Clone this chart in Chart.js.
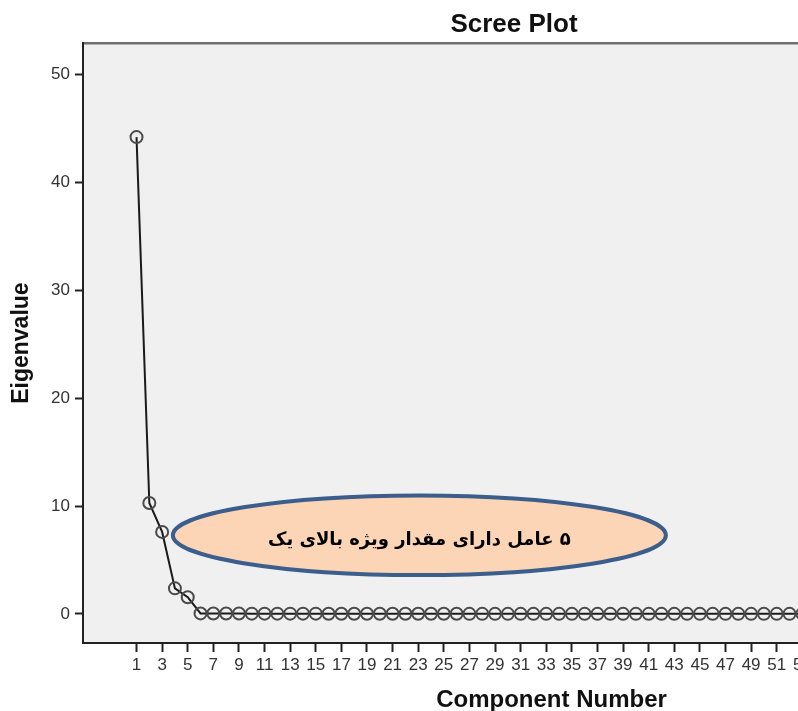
<!DOCTYPE html>
<html>
<head>
<meta charset="utf-8">
<script src="https://cdn.jsdelivr.net/npm/chart.js@4.4.1/dist/chart.umd.min.js"></script>
<style>
  html, body { margin: 0; padding: 0; background: #ffffff; overflow: hidden; }
  #wrap { position: relative; width: 1028px; height: 711px; }
</style>
</head>
<body>
<div id="wrap"><canvas id="c"></canvas></div>
<script>
// ---- data ----
const components = [];
for (let i = 1; i <= 54; i++) components.push(i);
const eigenvalues = [
  44.17, 10.28, 7.60, 2.37, 1.55, 0.05, 0.04, 0.04, 0.04, 0.03,
  0.03, 0.03, 0.03, 0.03, 0.03, 0.02, 0.02, 0.02, 0.02, 0.02,
  0.02, 0.02, 0.02, 0.02, 0.02, 0.02, 0.01, 0.01, 0.01, 0.01,
  0.01, 0.01, 0.01, 0.01, 0.01, 0.01, 0.01, 0.01, 0.01, 0.01,
  0.01, 0.01, 0.01, 0.01, 0.01, 0.01, 0.01, 0.01, 0.01, 0.01,
  0.01, 0.01, 0.01, 0.01
];
const xTickValues = [];
for (let i = 1; i <= 53; i += 2) xTickValues.push(i);
const yTickValues = [0, 10, 20, 30, 40, 50];
const titleText = 'Scree Plot';
const xTitle = 'Component Number';
const yTitle = 'Eigenvalue';
const noteText = '۵ عامل دارای مقدار ویژه بالای یک';

const points = components.map((c, i) => ({ x: c, y: eigenvalues[i] }));

const areaPlugin = {
  id: 'areaBg',
  beforeDraw(chart) {
    const { ctx, chartArea: a } = chart;
    ctx.save();
    ctx.fillStyle = '#f0f0f0';
    ctx.fillRect(a.left, a.top, a.right - a.left, a.bottom - a.top);
    ctx.strokeStyle = '#6e6e6e';
    ctx.lineWidth = 2.5;
    ctx.beginPath();
    ctx.moveTo(a.left, a.top);
    ctx.lineTo(a.right, a.top);
    ctx.stroke();
    ctx.restore();
  }
};

const ellipsePlugin = {
  id: 'noteEllipse',
  afterDatasetsDraw(chart, args, opts) {
    const { ctx, scales: { x, y } } = chart;
    const cx = x.getPixelForValue(opts.cx);
    const cy = y.getPixelForValue(opts.cy);
    const rx = Math.abs(x.getPixelForValue(opts.cx + opts.rx) - cx);
    const ry = Math.abs(y.getPixelForValue(opts.cy + opts.ry) - cy);
    ctx.save();
    ctx.beginPath();
    ctx.ellipse(cx, cy, rx, ry, 0, 0, Math.PI * 2);
    ctx.fillStyle = opts.fill;
    ctx.fill();
    ctx.lineWidth = opts.lineWidth;
    ctx.strokeStyle = opts.stroke;
    ctx.stroke();
    ctx.fillStyle = '#000';
    ctx.font = opts.font;
    ctx.textAlign = 'center';
    ctx.textBaseline = 'middle';
    ctx.direction = 'rtl';
    ctx.fillText(opts.text, cx + opts.textDx, cy + opts.textDy);
    ctx.restore();
  }
};

new Chart(document.getElementById('c'), {
  type: 'line',
  data: {
    datasets: [{
      data: points,
      borderColor: '#1a1a1a',
      borderWidth: 2,
      pointRadius: 6,
      pointBorderWidth: 2,
      pointBorderColor: '#4a4a4a',
      pointBackgroundColor: 'rgba(0,0,0,0)',
      tension: 0,
      clip: false
    }]
  },
  options: {
    responsive: true,
    maintainAspectRatio: false,
    animation: false,
    devicePixelRatio: 1,
    layout: { padding: { left: 0, right: 0, top: 0, bottom: 0 } },
    plugins: {
      legend: { display: false },
      tooltip: { enabled: false },
      title: {
        display: true,
        text: titleText,
        color: '#111',
        font: { family: 'Liberation Sans, Arial, sans-serif', size: 26, weight: 'bold', lineHeight: 1.2 },
        padding: { top: 9, bottom: 3 }
      },
      noteEllipse: {
        cx: 23.09, cy: 7.29, rx: 19.25, ry: 3.69,
        fill: '#fbd5b5', stroke: '#3b5e8c', lineWidth: 4,
        text: noteText,
        font: 'bold 18px "DejaVu Sans", sans-serif',
        textDx: 0, textDy: 5
      }
    },
    scales: {
      x: {
        type: 'linear',
        min: -3.18,
        max: 70,
        afterBuildTicks(scale) { scale.ticks = xTickValues.map(v => ({ value: v })); },
        afterFit(scale) { scale.height = 68; },
        grid: { display: true, drawOnChartArea: false, drawTicks: true, tickLength: 9, tickColor: '#222', tickWidth: 2 },
        border: { display: true, color: '#222', width: 2 },
        ticks: {
          autoSkip: false, maxRotation: 0, padding: 3,
          color: '#333',
          font: { family: 'Liberation Sans, Arial, sans-serif', size: 17 },
          callback: v => String(v)
        },
        title: {
          display: true, text: xTitle, color: '#111',
          font: { family: 'Liberation Sans, Arial, sans-serif', size: 24, weight: 'bold' },
          padding: { top: 4, bottom: -4 }
        }
      },
      y: {
        type: 'linear',
        min: -2.69,
        max: 52.87,
        afterBuildTicks(scale) { scale.ticks = yTickValues.map(v => ({ value: v })); },
        afterFit(scale) { scale.width = 83; },
        grid: { display: true, drawOnChartArea: false, drawTicks: true, tickLength: 8, tickColor: '#222', tickWidth: 2 },
        border: { display: true, color: '#222', width: 2 },
        ticks: {
          padding: 5,
          color: '#333',
          font: { family: 'Liberation Sans, Arial, sans-serif', size: 17 },
          callback: v => String(v)
        },
        title: {
          display: true, text: yTitle, color: '#111',
          font: { family: 'Liberation Sans, Arial, sans-serif', size: 23, weight: 'bold' },
          padding: { top: 8, bottom: 0 }
        }
      }
    }
  },
  plugins: [areaPlugin, ellipsePlugin]
});
</script>
</body>
</html>
